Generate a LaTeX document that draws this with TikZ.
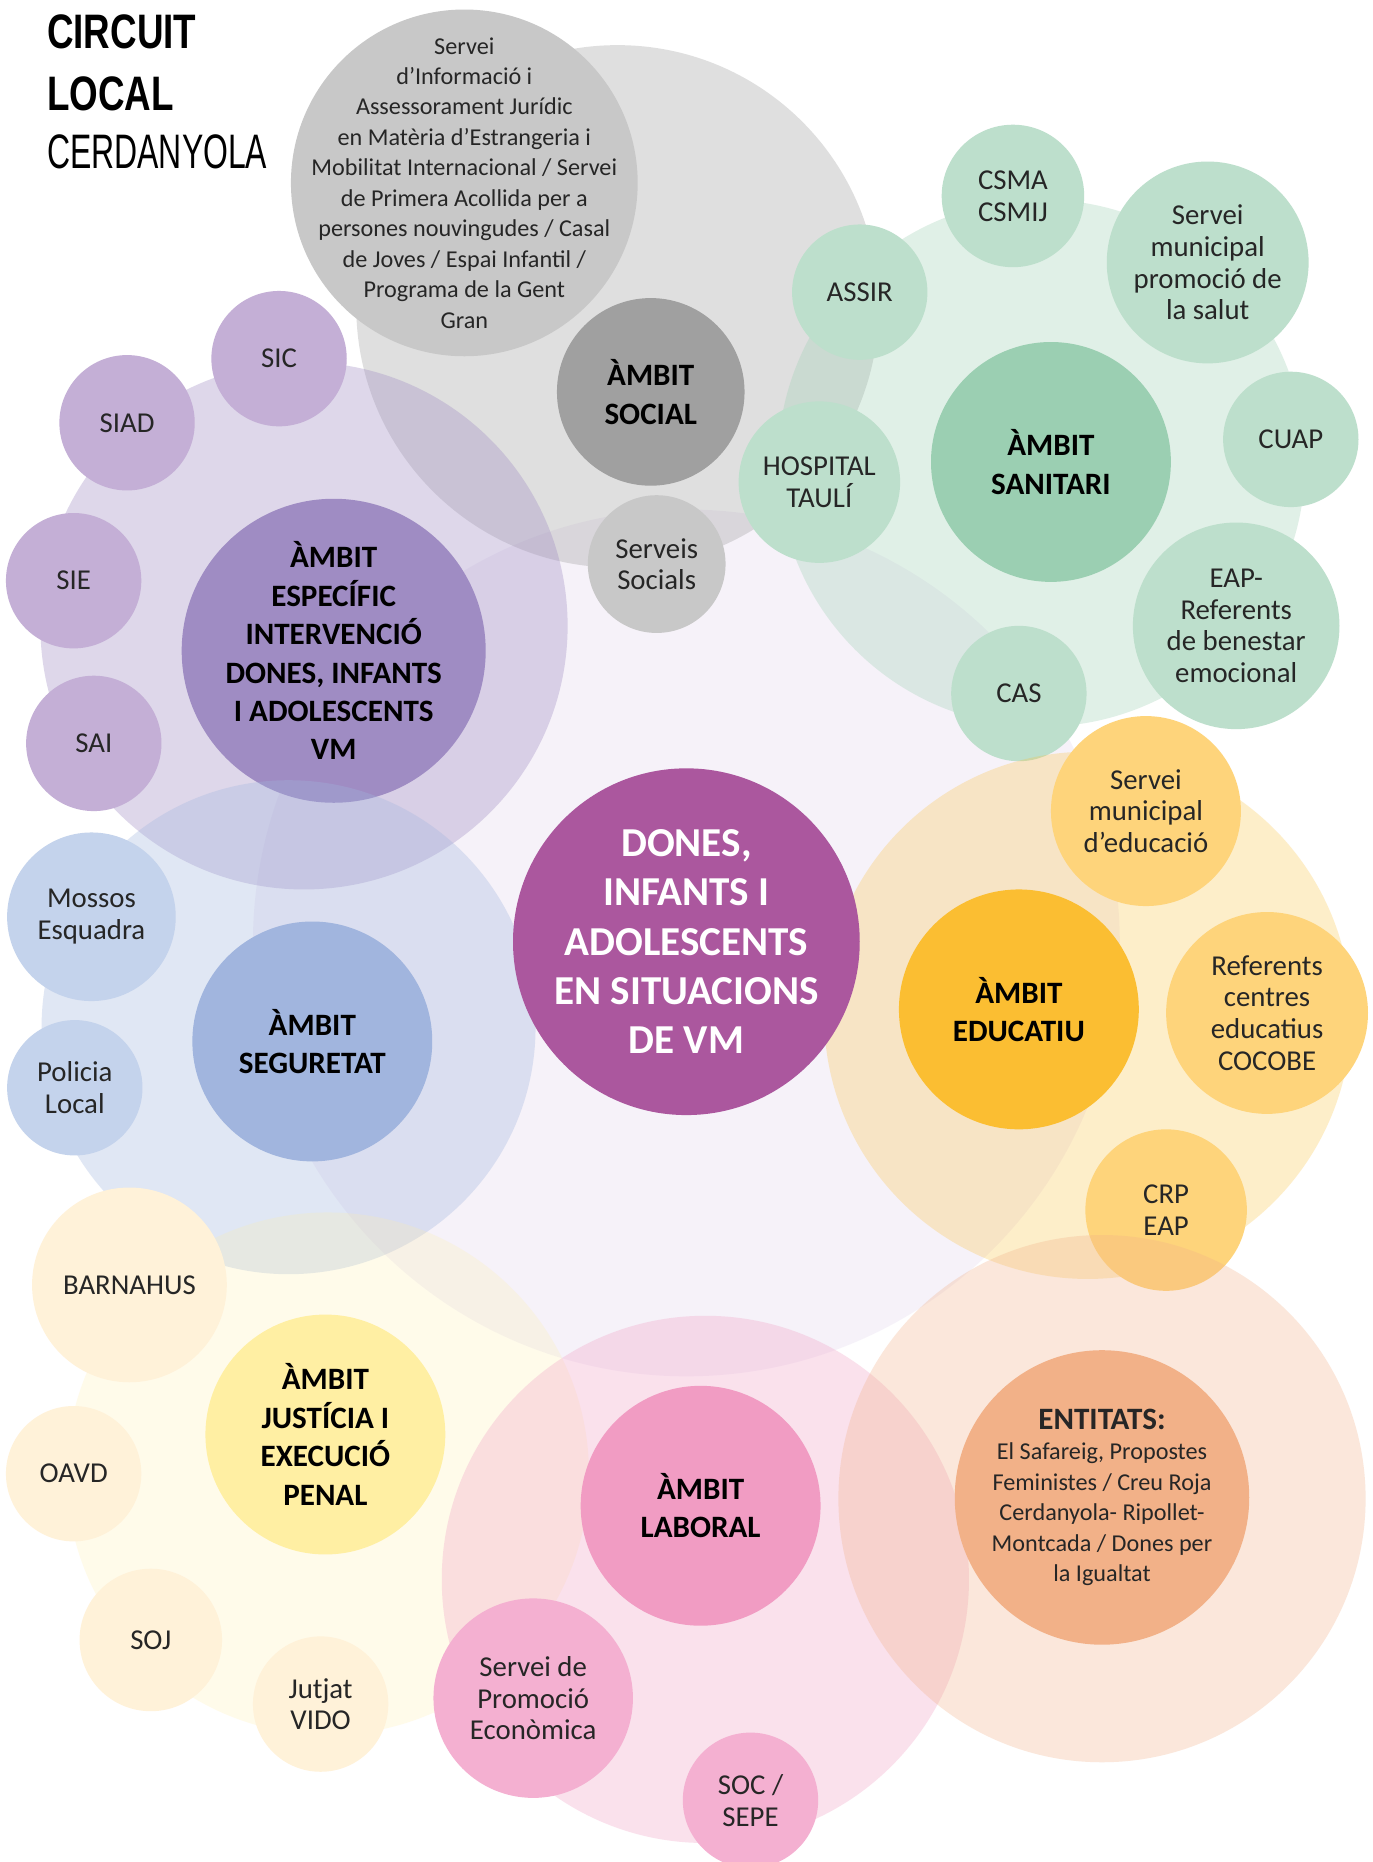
\documentclass[tikz,border=0pt]{standalone}
\usepackage{fontspec}
\setmainfont{Carlito}
\newfontfamily\titlefont[FakeStretch=0.76]{Liberation Sans}
\newfontfamily\titlethin[FakeStretch=0.66]{Liberation Sans}
\usetikzlibrary{positioning}

\definecolor{heartbg}{RGB}{150,100,190}
\definecolor{heart}{RGB}{171,87,158}
\definecolor{socialcore}{RGB}{160,160,160}
\definecolor{socialleaf}{RGB}{200,200,200}
\definecolor{vmcore}{RGB}{159,140,195}
\definecolor{vmleaf}{RGB}{196,175,214}
\definecolor{healthcore}{RGB}{155,207,178}
\definecolor{healthleaf}{RGB}{189,223,204}
\definecolor{safecore}{RGB}{161,181,222}
\definecolor{safeleaf}{RGB}{196,211,236}
\definecolor{educore}{RGB}{251,190,50}
\definecolor{eduleaf}{RGB}{254,212,123}
\definecolor{lawcore}{RGB}{255,239,163}
\definecolor{lawleaf}{RGB}{255,242,217}
\definecolor{workcore}{RGB}{241,156,195}
\definecolor{workleaf}{RGB}{244,176,209}
\definecolor{groupcore}{RGB}{242,177,136}

\newcommand\leaffont{\fontsize{6.9}{7.6}\selectfont}
\newcommand\notefont{\fontsize{5.8}{7.3}\selectfont}
\newcommand\corefont{\fontsize{7.45}{9.2}\selectfont\bfseries}
\newcommand\heartfont{\fontsize{9.85}{11.8}\selectfont\bfseries}

\begin{document}
\begin{tikzpicture}[
    x=0.1mm, y=-0.1mm,
    halo/.style={circle, inner sep=0pt, fill opacity=0.32},
    leaf/.style={circle, inner sep=-10pt, align=center, text=black!85, font=\leaffont},
    core/.style={circle, inner sep=-10pt, align=center, text=black, font=\corefont},
    rad/.style={minimum size=#1*0.2mm},
    headline/.style={inner sep=0pt, anchor=base west, font=\fontsize{11.6}{14}\selectfont}
]

\fill[white] (0,0) rectangle (1156,1568);
\useasboundingbox (0,0) rectangle (1156,1568);

% title
\node[headline, font=\fontsize{11.6}{14}\selectfont\titlefont\bfseries] (circuit) at (39,41) {CIRCUIT};
\node[headline, font=\fontsize{11.6}{14}\selectfont\titlefont\bfseries] (local) at (39,93) {LOCAL};
\node[headline, font=\fontsize{11.6}{14}\selectfont\titlethin] (cerdanyola) at (39,142) {CERDANYOLA};

% central ring
\node[halo, fill=heartbg, fill opacity=0.08, rad=365] (heartring) at (578,794) {};

% ambit social
\node[halo, fill=socialcore, fill opacity=0.33, rad=220] (socialring) at (520,258) {};
\node[leaf, fill=socialleaf, rad=146, font=\notefont] (siaj) at (391,154) {Servei\\d’Informació i\\Assessorament Jurídic\\en Matèria d’Estrangeria i\\Mobilitat Internacional / Servei\\de Primera Acollida per a\\persones nouvingudes / Casal\\de Joves / Espai Infantil /\\Programa de la Gent\\Gran};
\node[core, fill=socialcore, rad=79] (social) at (548,330) {ÀMBIT\\SOCIAL};
\node[leaf, fill=socialleaf, rad=58] (socials) at (553,475) {Serveis\\Socials};

% ambit especific
\node[halo, fill=vmcore, fill opacity=0.34, rad=222] (vmring) at (256,527) {};
\node[core, fill=vmcore, rad=128] (vm) at (281,548) {ÀMBIT\\ESPECÍFIC\\INTERVENCIÓ\\DONES, INFANTS\\I ADOLESCENTS\\VM};
\node[leaf, fill=vmleaf, rad=57] (sic) at (235,302) {SIC};
\node[leaf, fill=vmleaf, rad=57] (siad) at (107,356) {SIAD};
\node[leaf, fill=vmleaf, rad=57] (sie) at (62,489) {SIE};
\node[leaf, fill=vmleaf, rad=57] (sai) at (79,626) {SAI};

% ambit sanitari
\node[halo, fill=healthcore, fill opacity=0.3, rad=222] (healthring) at (877,390) {};
\node[core, fill=healthcore, rad=101] (health) at (885,389) {ÀMBIT\\SANITARI};
\node[leaf, fill=healthleaf, rad=60] (csma) at (853,165) {CSMA\\CSMIJ};
\node[leaf, fill=healthleaf, rad=57] (assir) at (724,246) {ASSIR};
\node[leaf, fill=healthleaf, rad=68] (hospital) at (690,406) {HOSPITAL\\TAULÍ};
\node[leaf, fill=healthleaf, rad=85] (salut) at (1017,221) {Servei\\municipal\\promoció de\\la salut};
\node[leaf, fill=healthleaf, rad=57] (cuap) at (1087,370) {CUAP};
\node[leaf, fill=healthleaf, rad=87] (eap) at (1041,527) {EAP-\\Referents\\de benestar\\emocional};
\node[leaf, fill=healthleaf, rad=57] (cas) at (858,584) {CAS};

% ambit seguretat
\node[halo, fill=safecore, fill opacity=0.32, rad=208] (safering) at (243,865) {};
\node[core, fill=safecore, rad=101] (safe) at (263,877) {ÀMBIT\\SEGURETAT};
\node[leaf, fill=safeleaf, rad=71] (mossos) at (77,772) {Mossos\\Esquadra};
\node[leaf, fill=safeleaf, rad=57] (policia) at (63,916) {Policia\\Local};

% ambit educatiu
\node[halo, fill=educore, fill opacity=0.26, rad=222] (eduring) at (916,855) {};
\node[core, fill=educore, rad=101] (edu) at (858,850) {ÀMBIT\\EDUCATIU};
\node[leaf, fill=eduleaf, rad=80] (sme) at (965,683) {Servei\\municipal\\d’educació};
\node[leaf, fill=eduleaf, rad=85] (cocobe) at (1067,853) {Referents\\centres\\educatius\\COCOBE};
\node[leaf, fill=eduleaf, rad=68] (crp) at (982,1019) {CRP\\EAP};

% ambit justicia
\node[halo, fill=lawcore, fill opacity=0.22, rad=220] (lawring) at (276,1241) {};
\node[core, fill=lawcore, rad=101] (law) at (274,1208) {ÀMBIT\\JUSTÍCIA I\\EXECUCIÓ\\PENAL};
\node[leaf, fill=lawleaf, rad=82] (barnahus) at (109,1082) {BARNAHUS};
\node[leaf, fill=lawleaf, rad=57] (oavd) at (62,1241) {OAVD};
\node[leaf, fill=lawleaf, rad=60] (soj) at (127,1381) {SOJ};
\node[leaf, fill=lawleaf, rad=57] (vido) at (270,1435) {Jutjat\\VIDO};

% ambit laboral
\node[halo, fill=workcore, fill opacity=0.3, rad=222] (workring) at (594,1330) {};
\node[core, fill=workcore, rad=101] (work) at (590,1268) {ÀMBIT\\LABORAL};
\node[leaf, fill=workleaf, rad=84] (promo) at (449,1430) {Servei de\\Promoció\\Econòmica};
\node[leaf, fill=workleaf, rad=57] (soc) at (632,1516) {SOC /\\SEPE};

% entitats
\node[halo, fill=groupcore, fill opacity=0.3, rad=222] (groupring) at (928,1262) {};
\node[leaf, fill=groupcore, rad=124, font=\notefont] (groups) at (928,1261) {{\corefont ENTITATS:}\\El Safareig, Propostes\\Feministes / Creu Roja\\Cerdanyola- Ripollet-\\Montcada / Dones per\\la Igualtat};

% centre
\node[core, fill=heart, rad=146, text=white, font=\heartfont] (dones) at (578,793) {DONES,\\INFANTS I\\ADOLESCENTS\\EN SITUACIONS\\DE VM};

\end{tikzpicture}
\end{document}
